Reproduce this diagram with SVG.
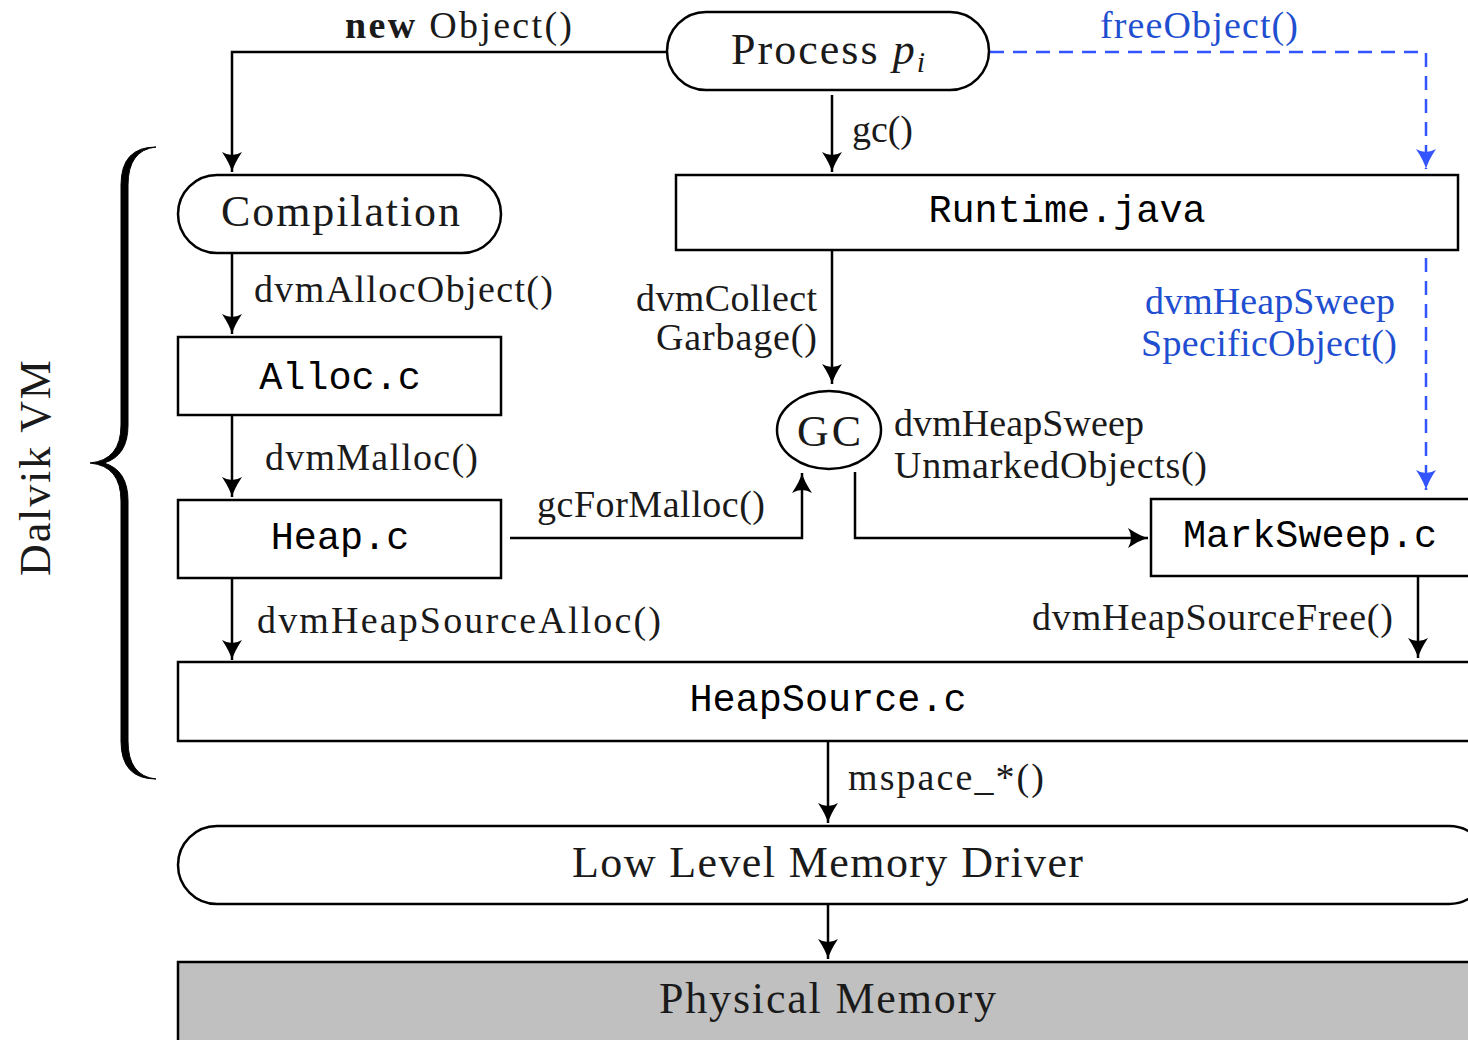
<svg xmlns="http://www.w3.org/2000/svg" width="1468" height="1040" viewBox="0 0 1468 1040">
<style>
.box{fill:#fff;stroke:#000;stroke-width:2.5}
.ln{fill:none;stroke:#000;stroke-width:2.5}
.bl{fill:none;stroke:#3355ff;stroke-width:2.5;stroke-dasharray:14 9}
.t{font-family:"Liberation Serif",serif;font-size:38px;fill:#1a1a1a}
.big{font-family:"Liberation Serif",serif;font-size:44px;fill:#1a1a1a}
.m{font-family:"Liberation Mono",monospace;font-size:38.5px;fill:#000}
.blt{font-family:"Liberation Serif",serif;font-size:38px;fill:#1f4fd0}
</style>
<defs>
<marker id="a" viewBox="-24 -12 26 24" refX="0" refY="0" markerWidth="26" markerHeight="24" markerUnits="userSpaceOnUse" orient="auto">
<path d="M-20,-10 Q-8,-2 0,0 Q-8,2 -20,10 Q-14,0 -20,-10 Z" fill="#000"/>
</marker>
<marker id="ab" viewBox="-24 -12 26 24" refX="0" refY="0" markerWidth="26" markerHeight="24" markerUnits="userSpaceOnUse" orient="auto">
<path d="M-20,-10 Q-8,-2 0,0 Q-8,2 -20,10 Q-14,0 -20,-10 Z" fill="#3355ff"/>
</marker>
</defs>

<g id="connectors">
<path class="ln" d="M667,52 H232 V172" marker-end="url(#a)"/>
<path class="bl" d="M990,52 H1426 V169" marker-end="url(#ab)"/>
<path class="ln" d="M832,95 V172" marker-end="url(#a)"/>
<path class="ln" d="M232,253 V334" marker-end="url(#a)"/>
<path class="ln" d="M232,415 V497" marker-end="url(#a)"/>
<path class="ln" d="M510,538 H802 V473" marker-end="url(#a)"/>
<path class="ln" d="M832,250 V384" marker-end="url(#a)"/>
<path class="ln" d="M855,472 V538 H1148" marker-end="url(#a)"/>
<path class="bl" d="M1426,258 V490" marker-end="url(#ab)"/>
<path class="ln" d="M1418,576 V658" marker-end="url(#a)"/>
<path class="ln" d="M232,578 V660" marker-end="url(#a)"/>
<path class="ln" d="M828,741 V823" marker-end="url(#a)"/>
<path class="ln" d="M828,904 V959" marker-end="url(#a)"/>
<text class="t" x="345" y="38" textLength="227"><tspan font-weight="bold">new</tspan> Object()</text>
<text class="blt" x="1100" y="38" textLength="198">freeObject()</text>
<text class="t" x="852" y="142" textLength="61">gc()</text>
<text class="t" x="254" y="302" textLength="299">dvmAllocObject()</text>
<text class="t" x="265" y="470" textLength="213">dvmMalloc()</text>
<text class="t" x="537" y="517" textLength="228">gcForMalloc()</text>
<text class="t" x="636" y="311" textLength="181">dvmCollect</text>
<text class="t" x="656" y="350" textLength="161">Garbage()</text>
<text class="t" x="894" y="436" textLength="250">dvmHeapSweep</text>
<text class="t" x="894" y="478" textLength="313">UnmarkedObjects()</text>
<text class="blt" x="1145" y="314" textLength="250">dvmHeapSweep</text>
<text class="blt" x="1141" y="356" textLength="256">SpecificObject()</text>
<text class="t" x="1032" y="630" textLength="361">dvmHeapSourceFree()</text>
<text class="t" x="257" y="633" textLength="404">dvmHeapSourceAlloc()</text>
<text class="t" x="848" y="790" textLength="196">mspace_*()</text>
</g>

<g id="process">
<rect class="box" x="667" y="12" width="322" height="78" rx="39"/>
<text class="big" x="731" y="64" textLength="194">Process <tspan font-style="italic">p</tspan><tspan font-style="italic" font-size="30" dy="8">i</tspan></text>
</g>
<g id="runtime">
<rect class="box" x="676" y="175" width="782" height="75"/>
<text class="m" x="1067" y="222" text-anchor="middle">Runtime.java</text>
</g>
<g id="compilation">
<rect class="box" x="178" y="175" width="323" height="78" rx="39"/>
<text class="big" x="221" y="226" textLength="239">Compilation</text>
</g>
<g id="alloc">
<rect class="box" x="178" y="337" width="323" height="78"/>
<text class="m" x="340" y="389" text-anchor="middle">Alloc.c</text>
</g>
<g id="heap">
<rect class="box" x="178" y="500" width="323" height="78"/>
<text class="m" x="340" y="549" text-anchor="middle">Heap.c</text>
</g>
<g id="gc">
<ellipse class="box" cx="829" cy="430" rx="52" ry="39"/>
<text class="big" x="797" y="446" textLength="64">GC</text>
</g>
<g id="marksweep">
<rect class="box" x="1151" y="499" width="330" height="77"/>
<text class="m" x="1310" y="547" text-anchor="middle">MarkSweep.c</text>
</g>
<g id="heapsource">
<rect class="box" x="178" y="662" width="1310" height="79"/>
<text class="m" x="828" y="711" text-anchor="middle">HeapSource.c</text>
</g>
<g id="lowlevel">
<rect class="box" x="178" y="826" width="1310" height="78" rx="39"/>
<text class="big" x="572" y="877" textLength="511">Low Level Memory Driver</text>
</g>
<g id="physical">
<rect x="178" y="962" width="1310" height="90" fill="#c0c0c0" stroke="#000" stroke-width="2.5"/>
<text class="big" x="659" y="1013" textLength="337">Physical Memory</text>
</g>
<g id="dalvik">
<path d="M156,147 Q121,147 121,185 V425 Q121,460 90,463 Q121,466 121,501 V741 Q121,779 156,779 Q128,776 128,741 V501 Q128,470 104,463 Q128,456 128,425 V185 Q128,150 156,147 Z" fill="#000" stroke="#000" stroke-width="1"/>
<text class="big" x="-576" y="50" textLength="216" transform="rotate(-90)">Dalvik VM</text>
</g>
</svg>
